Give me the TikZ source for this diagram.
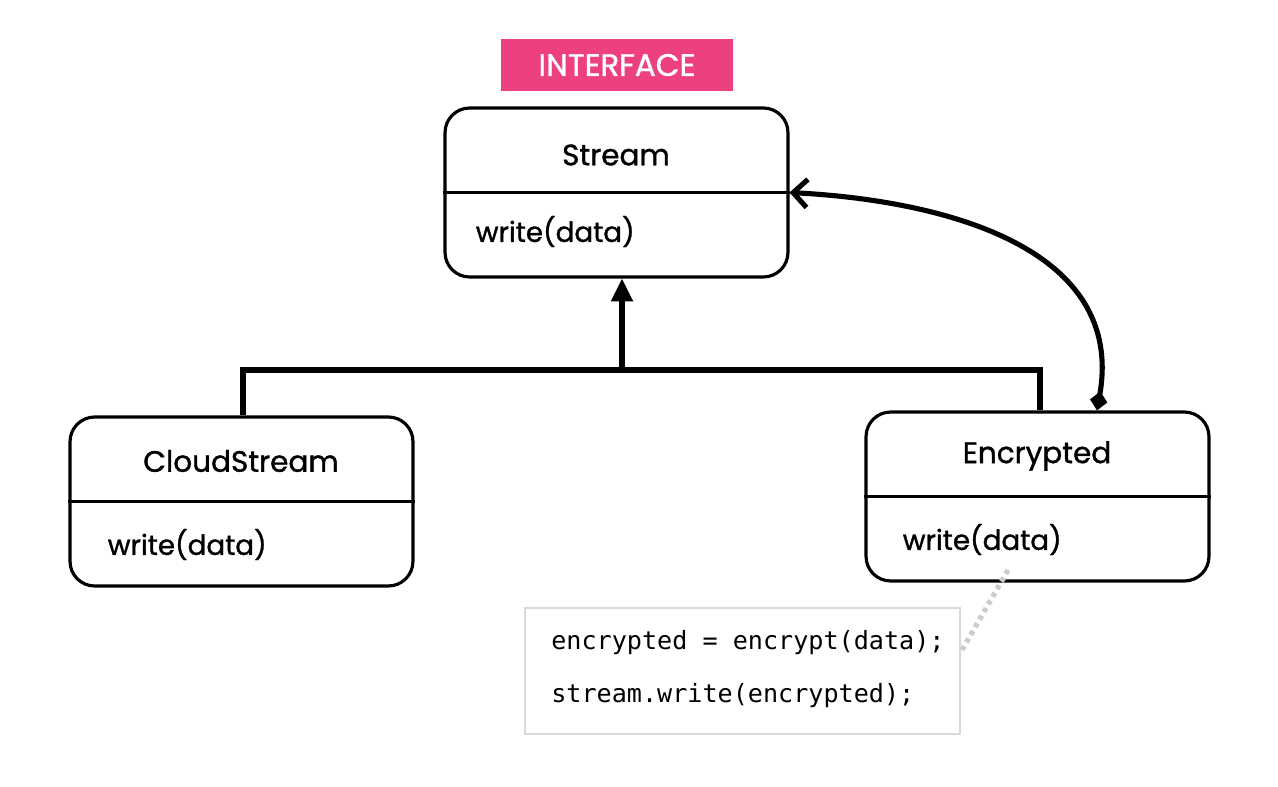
\documentclass[tikz,border=0pt]{standalone}
\usepackage{fontspec}
\setmainfont{Poppins}
\setmonofont{DejaVu Sans Mono}
\newfontfamily\medfont{Poppins}[FakeBold=1.2]
\usepackage{xcolor}
\usetikzlibrary{arrows.meta, positioning, calc}
\definecolor{intpink}{RGB}{236,64,128}
\definecolor{codegray}{RGB}{217,217,217}
\definecolor{dotgray}{RGB}{204,204,204}

\begin{document}
\begin{tikzpicture}[
    x=0.02cm, y=-0.02cm,
    umlbox/.style={draw, line width=1.8pt, rounded corners=14pt, minimum width=6.86cm, minimum height=3.38cm},
    title/.style={font=\medfont\fontsize{16.8}{20}\selectfont, inner sep=0pt},
    method/.style={font=\medfont\fontsize{15.8}{19}\selectfont, inner sep=0pt, anchor=west},
    arr/.style={line width=2.9pt},
]
\useasboundingbox (0,0) rectangle (1278,787);

% Interface tag
\node[fill=intpink, text=white, minimum width=4.64cm, minimum height=1.04cm, font=\medfont\fontsize{17.6}{20}\selectfont] (tag) at (617,65) {INTERFACE};

% Classes
\node[umlbox] (stream) at (616.5,192.5) {};
\node[umlbox] (cloud) at (241.5,501.5) {};
\node[umlbox] (encr) at (1037.5,496.5) {};
\foreach \b in {stream, cloud, encr}
  \draw[line width=1.8pt] (\b.west) -- (\b.east);

\node[title] (streamt) at (616,155) {Stream};
\node[title] (cloudt) at (241,461) {CloudStream};
\node[title] (encrt) at (1037,456) {Encrypted};
\node[method] (streamm) at ($(stream.west)+(32,39)$) {write(data)};
\node[method] (cloudm) at ($(cloud.west)+(39,43)$) {write(data)};
\node[method] (encrm) at ($(encr.west)+(38,43)$) {write(data)};

% Code note
\node[draw=codegray, line width=1.2pt, minimum width=8.7cm, minimum height=2.52cm] (note) at (742.5,671) {};
\node[font=\ttfamily\fontsize{14.3}{17}\selectfont, inner sep=0pt, anchor=west] (code1) at (551,643) {encrypted = encrypt(data);};
\node[font=\ttfamily\fontsize{14.3}{17}\selectfont, inner sep=0pt, anchor=west] (code2) at (551,696) {stream.write(encrypted);};
\coordinate (notec) at (962,650);
\coordinate (encrc) at (1008,570);
\draw[dotgray, line width=3pt, dash pattern=on 2.5pt off 2.5pt] (notec) -- (encrc);

% Inheritance
\coordinate (join) at (622,370);
\draw[arr, -{Triangle[width=12pt, length=13pt]}] (join) -- (stream.south -| join);
\draw[arr] (cloud.north -| 243,0) -- (243,370) -- (1040,370) -- (encr.north -| 1040,0);

% Composition
\draw[arr, {Diamond[length=11pt, width=10pt]}-{Straight Barb[length=8pt, width=16pt]}] (encr.north -| 1097,0) to[out=80, in=-3, looseness=1.1] (stream.east);

\end{tikzpicture}
\end{document}
